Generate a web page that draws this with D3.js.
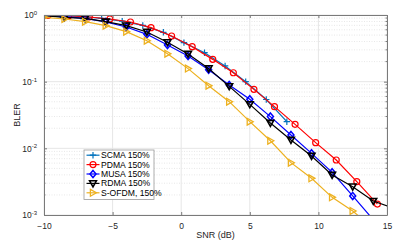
<!DOCTYPE html>
<html>
<head>
<meta charset="utf-8">
<script src="https://cdn.jsdelivr.net/npm/d3@7"></script>
<style>
html,body{margin:0;padding:0;background:#fff;}
svg{display:block;font-family:"Liberation Sans",Arial,sans-serif;}
</style>
</head>
<body>
<svg id="chart" width="410" height="241"></svg>
<script>
// ---- data (SNR in dB, BLER) ----
const seriesNames = ["SCMA 150%", "PDMA 150%", "MUSA 150%", "RDMA 150%", "S-OFDM, 150%"];
const seriesColors = ["#0072BD", "#FF0000", "#0000FF", "#000000", "#EDB120"];
const seriesMarkers = ["plus", "circle", "diamond", "triDown", "triRight"];

const snrScma = [-8.8, -7.3, -5.8, -4.3, -2.8, -1.3, 0.2, 1.7, 3.2, 4.7, 6.2, 7.7];
const blerScma = [0.99, 0.955, 0.89, 0.81, 0.70, 0.55, 0.385, 0.272, 0.172, 0.100, 0.054, 0.0251];

const snrPdma = [-9.7, -8.2, -6.7, -5.2, -3.7, -2.2, -0.7, 0.8, 2.3, 3.8, 5.3, 6.8, 8.3, 9.8, 11.3, 12.8, 14.3];
const blerPdma = [0.99, 0.977, 0.933, 0.871, 0.785, 0.646, 0.484, 0.335, 0.216, 0.136, 0.0767, 0.0422, 0.0229, 0.01216, 0.00668, 0.00316, 0.00146];

const snrGrid = [-10, -8.5, -7, -5.5, -4, -2.5, -1, 0.5, 2, 3.5, 5, 6.5, 8, 9.5, 11, 12.5, 14];
const blerMusa = [0.99, 0.944, 0.891, 0.785, 0.661, 0.513, 0.355, 0.243, 0.151, 0.0891, 0.0543, 0.0299, 0.01585, 0.00841, 0.00437, 0.00193, 0.00085];
const snrRdma = [-10, -8.5, -7, -5.5, -4, -2.5, -1, 0.5, 2, 3.5, 5, 6.5, 8, 9.5, 11, 12.5, 14, 15.5];
const blerRdma = [0.98, 0.923, 0.891, 0.794, 0.692, 0.556, 0.389, 0.26, 0.158, 0.0851, 0.0457, 0.024, 0.01334, 0.00767, 0.00398, 0.00266, 0.00162, 0.00126];
const blerSofdm = [0.923, 0.871, 0.794, 0.692, 0.562, 0.412, 0.263, 0.157, 0.0871, 0.0501, 0.0251, 0.013, 0.0061, 0.00355, 0.00184, 0.00115, 0.00063];

const xTicks = [-10, -5, 0, 5, 10, 15];
const yTicks = [1e-3, 1e-2, 1e-1, 1];
const yTickExp = ["-3", "-2", "-1", "0"];

const series = [
  {x: snrScma, y: blerScma},
  {x: snrPdma, y: blerPdma},
  {x: snrGrid, y: blerMusa},
  {x: snrRdma, y: blerRdma},
  {x: snrGrid, y: blerSofdm}
].map((s, i) => ({name: seriesNames[i], color: seriesColors[i], marker: seriesMarkers[i],
   pts: s.x.map((v, j) => [v, s.y[j]])}));

// ---- layout ----
const L = 44, R = 387, T = 15, B = 215;
const svg = d3.select("#chart");
const x = d3.scaleLinear().domain([-10, 15]).range([L, R]);
const y = d3.scaleLog().domain([1e-3, 1]).range([B, T]);

// minor log values
const minor = [];
for (let e = -3; e < 0; e++) for (let m = 2; m <= 9; m++) minor.push(m * Math.pow(10, e));

// grid
const grid = svg.append("g");
grid.selectAll("line.mn").data(minor).join("line")
  .attr("x1", L).attr("x2", R).attr("y1", d => y(d)).attr("y2", d => y(d))
  .attr("stroke", "#d6d6d6").attr("stroke-width", 0.6).attr("stroke-dasharray", "1,1.5");
grid.selectAll("line.mjy").data(yTicks).join("line")
  .attr("x1", L).attr("x2", R).attr("y1", d => y(d)).attr("y2", d => y(d))
  .attr("stroke", "#e6e6e6").attr("stroke-width", 1);
grid.selectAll("line.mjx").data(xTicks).join("line")
  .attr("y1", T).attr("y2", B).attr("x1", d => x(d)).attr("x2", d => x(d))
  .attr("stroke", "#e6e6e6").attr("stroke-width", 1);

// clip
svg.append("clipPath").attr("id", "clip").append("rect")
  .attr("x", L).attr("y", T).attr("width", R - L).attr("height", B - T);

const line = d3.line().x(d => x(d[0])).y(d => y(d[1]));
const plot = svg.append("g").attr("clip-path", "url(#clip)");

function drawMarker(g, type, color, cx, cy) {
  const s = 3.2;
  if (type === "circle") {
    g.append("circle").attr("cx", cx).attr("cy", cy).attr("r", 3)
      .attr("fill", "none").attr("stroke", color).attr("stroke-width", 1.2);
  } else if (type === "plus") {
    g.append("path").attr("d", `M${cx - s},${cy}H${cx + s}M${cx},${cy - s}V${cy + s}`)
      .attr("stroke", color).attr("stroke-width", 1.2).attr("fill", "none");
  } else if (type === "diamond") {
    g.append("path").attr("d", `M${cx},${cy - 3.6}L${cx + 3},${cy}L${cx},${cy + 3.6}L${cx - 3},${cy}Z`)
      .attr("fill", "none").attr("stroke", color).attr("stroke-width", 1.5);
  } else if (type === "triDown") {
    g.append("path").attr("d", `M${cx - 3.4},${cy - 2.6}L${cx + 3.4},${cy - 2.6}L${cx},${cy + 3.4}Z`)
      .attr("fill", "none").attr("stroke", color).attr("stroke-width", 1.6);
  } else if (type === "triRight") {
    g.append("path").attr("d", `M${cx - 2.6},${cy - 3.4}L${cx - 2.6},${cy + 3.4}L${cx + 3.4},${cy}Z`)
      .attr("fill", "none").attr("stroke", color).attr("stroke-width", 1.3);
  }
}

series.forEach(s => {
  const g = plot.append("g");
  g.append("path").datum(s.pts).attr("d", line)
    .attr("fill", "none").attr("stroke", s.color).attr("stroke-width", 1.2);
  s.pts.forEach(p => drawMarker(g, s.marker, s.color, x(p[0]), y(p[1])));
});

// axes
const axColor = "#7a7a7a";
function styleAxis(g) {
  g.select(".domain").attr("stroke", axColor);
  g.selectAll(".tick line").attr("stroke", axColor);
  g.selectAll(".tick text").attr("fill", "#262626").attr("font-size", 8.5)
    .attr("font-family", "Liberation Sans, Arial, sans-serif");
}
const xb = svg.append("g").attr("transform", `translate(0,${B})`)
  .call(d3.axisBottom(x).tickValues(xTicks).tickSizeInner(-3).tickSizeOuter(0).tickPadding(6));
styleAxis(xb);
xb.selectAll(".tick text").attr("dy", "0.9em");
const xt = svg.append("g").attr("transform", `translate(0,${T})`)
  .call(d3.axisTop(x).tickValues(xTicks).tickSizeInner(-3).tickSizeOuter(0).tickFormat(""));
styleAxis(xt);

const yl = svg.append("g").attr("transform", `translate(${L},0)`)
  .call(d3.axisLeft(y).tickValues(yTicks).tickSizeInner(-3).tickSizeOuter(0).tickPadding(7).tickFormat(() => ""));
styleAxis(yl);
yl.selectAll(".tick text").each(function(d, i) {
  const t = d3.select(this);
  t.append("tspan").text("10");
  t.append("tspan").text(yTickExp[i]).attr("font-size", 6).attr("dy", "-0.55em");
});
const yr = svg.append("g").attr("transform", `translate(${R},0)`)
  .call(d3.axisRight(y).tickValues(yTicks).tickSizeInner(-3).tickSizeOuter(0).tickFormat(""));
styleAxis(yr);
// minor ticks
[[L, 1.5], [R, -1.5]].forEach(([px, len]) => {
  svg.append("g").selectAll("line").data(minor).join("line")
    .attr("x1", px).attr("x2", px + len).attr("y1", d => y(d)).attr("y2", d => y(d))
    .attr("stroke", axColor).attr("stroke-width", 1);
});

// labels
svg.append("text").attr("x", (L + R) / 2).attr("y", 238).attr("text-anchor", "middle")
  .attr("font-size", 9).attr("fill", "#262626").text("SNR (dB)");
svg.append("text").attr("transform", `translate(20,${(T + B) / 2}) rotate(-90)`)
  .attr("text-anchor", "middle").attr("font-size", 9).attr("fill", "#262626").text("BLER");

// legend
const lg = svg.append("g").attr("transform", "translate(84,150)");
lg.append("rect").attr("x", 0).attr("y", 0).attr("width", 70).attr("height", 49.5)
  .attr("fill", "#fff").attr("stroke", "#9a9a9a").attr("stroke-width", 0.8);
series.forEach((s, i) => {
  const cy = 5.2 + i * 9.4;
  const g = lg.append("g");
  g.append("line").attr("x1", 2.5).attr("x2", 15.5).attr("y1", cy).attr("y2", cy)
    .attr("stroke", s.color).attr("stroke-width", 1.2);
  drawMarker(g, s.marker, s.color, 9, cy);
  g.append("text").attr("x", 17).attr("y", cy + 3).attr("font-size", 8.6)
    .attr("fill", "#000").text(s.name);
});
</script>
</body>
</html>
